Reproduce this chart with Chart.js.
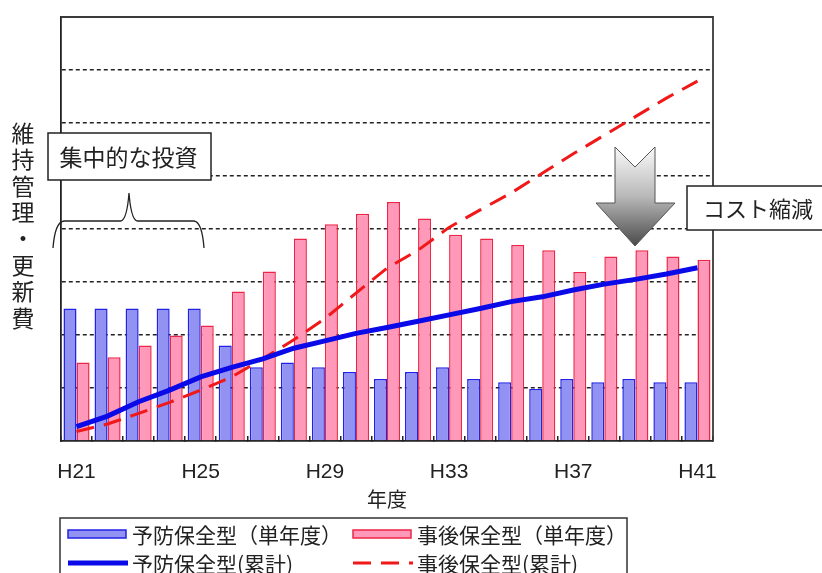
<!DOCTYPE html>
<html><head><meta charset="utf-8">
<script src="https://cdn.jsdelivr.net/npm/chart.js@4/dist/chart.umd.min.js"></script>
<style>html,body{margin:0;padding:0;background:#fff;overflow:hidden}canvas{display:block}</style>
</head><body>
<canvas id="c" width="822" height="573"></canvas>
<script>
// ---- data ----
const categories = ['H21','H22','H23','H24','H25','H26','H27','H28','H29','H30','H31','H32','H33','H34','H35','H36','H37','H38','H39','H40','H41'];
const preventiveSingle = [2.5,2.5,2.5,2.5,2.5,1.8,1.39,1.48,1.39,1.3,1.17,1.3,1.39,1.17,1.11,0.98,1.17,1.11,1.17,1.11,1.11];
const correctiveSingle = [1.48,1.58,1.8,1.99,2.18,2.82,3.2,3.82,4.09,4.29,4.51,4.2,3.89,3.82,3.7,3.6,3.19,3.48,3.6,3.48,3.42];
const preventiveCum = [0.27,0.47,0.74,0.96,1.21,1.39,1.55,1.75,1.89,2.03,2.14,2.26,2.38,2.5,2.63,2.72,2.85,2.96,3.05,3.15,3.27];
const correctiveCum = [0.18,0.32,0.52,0.73,0.96,1.21,1.55,1.91,2.31,2.79,3.26,3.6,4.03,4.36,4.68,5.05,5.42,5.77,6.12,6.47,6.79];
const seriesNames = ['予防保全型（単年度）','事後保全型（単年度）','予防保全型(累計)','事後保全型(累計)'];
const xTitle = '年度';
const yTitleChars = ['維','持','管','理','・','更','新','費'];
const noteInvest = '集中的な投資';
const noteCost = 'コスト縮減';
const labelEvery = 4;

const JP = '"Noto Sans CJK JP", "Noto Sans", sans-serif';
const LAT = '"Liberation Sans Narrow", "Liberation Sans", sans-serif';

const decor = {
  id: 'decor',
  afterDraw(chart) {
    const ctx = chart.ctx;
    const a = chart.chartArea;
    ctx.save();
    // plot frame top/right
    ctx.strokeStyle = '#3a3a3a';
    ctx.lineWidth = 1.8;
    ctx.beginPath();
    ctx.moveTo(a.left, a.top); ctx.lineTo(a.right, a.top); ctx.lineTo(a.right, a.bottom);
    ctx.stroke();

    // y title (vertical)
    ctx.fillStyle = '#222';
    ctx.font = '23px ' + JP;
    ctx.textAlign = 'center';
    ctx.textBaseline = 'middle';
    yTitleChars.forEach((ch, i) => ctx.fillText(ch, 23, 133 + 26.4 * i));

    // box: 集中的な投資
    ctx.fillStyle = '#fff';
    ctx.fillRect(48, 133, 163, 47);
    ctx.strokeStyle = '#222';
    ctx.lineWidth = 1.5;
    ctx.strokeRect(48, 133, 163, 47);
    ctx.fillStyle = '#222';
    ctx.font = '23px ' + JP;
    ctx.textAlign = 'center';
    ctx.fillText(noteInvest, 128.5, 157);

    // brace
    ctx.lineWidth = 1.3;
    ctx.beginPath();
    ctx.moveTo(53, 248);
    ctx.quadraticCurveTo(55, 222, 64, 221);
    ctx.lineTo(121, 221);
    ctx.quadraticCurveTo(127, 219, 129, 193);
    ctx.quadraticCurveTo(131, 219, 137, 221);
    ctx.lineTo(194, 221);
    ctx.quadraticCurveTo(202, 222, 204, 248);
    ctx.stroke();

    // arrow
    const g = ctx.createLinearGradient(0, 147, 0, 246);
    g.addColorStop(0, '#fafafa');
    g.addColorStop(0.5, '#b8b8b8');
    g.addColorStop(1, '#4a4a4a');
    ctx.beginPath();
    ctx.moveTo(615, 147); ctx.lineTo(635, 167); ctx.lineTo(655, 147);
    ctx.lineTo(655, 203); ctx.lineTo(675, 203); ctx.lineTo(635, 246);
    ctx.lineTo(596, 203); ctx.lineTo(615, 203); ctx.closePath();
    ctx.fillStyle = g; ctx.fill();
    ctx.strokeStyle = '#555'; ctx.lineWidth = 1; ctx.stroke();

    // box: コスト縮減
    ctx.fillStyle = '#fff';
    ctx.fillRect(687, 186, 140, 44);
    ctx.strokeStyle = '#222'; ctx.lineWidth = 1.5;
    ctx.strokeRect(687, 186, 140, 44);
    ctx.fillStyle = '#222';
    ctx.font = '22px ' + JP;
    ctx.textAlign = 'left';
    ctx.fillText(noteCost, 703, 209);

    // legend
    ctx.strokeStyle = '#333'; ctx.lineWidth = 1.5;
    ctx.strokeRect(60, 518, 567, 70);
    const pos = [[68, 534], [353, 534], [68, 563], [353, 563]];
    chart.data.datasets.forEach((ds, i) => {
      const [x, y] = pos[i];
      ctx.save();
      if (ds.type === 'bar') {
        ctx.fillStyle = ds.backgroundColor;
        ctx.fillRect(x, y - 4, 58, 8);
        ctx.strokeStyle = ds.borderColor; ctx.lineWidth = 1.5;
        ctx.strokeRect(x, y - 4, 58, 8);
      } else {
        ctx.strokeStyle = ds.borderColor;
        ctx.lineWidth = ds.borderWidth;
        ctx.setLineDash(ds.borderDash || []);
        ctx.beginPath(); ctx.moveTo(x, y); ctx.lineTo(x + 60, y); ctx.stroke();
      }
      ctx.restore();
      ctx.fillStyle = '#222';
      ctx.font = '21px ' + JP;
      ctx.textAlign = 'left';
      ctx.textBaseline = 'middle';
      ctx.fillText(ds.label, x + 64, y + 1);
    });
    ctx.restore();
  }
};

new Chart(document.getElementById('c'), {
  type: 'bar',
  data: {
    labels: categories,
    datasets: [
      { type: 'bar', label: seriesNames[0], data: preventiveSingle, backgroundColor: '#9292f3', borderColor: '#2222e6', borderWidth: 1.5, order: 2, categoryPercentage: 0.84, barPercentage: 1 },
      { type: 'bar', label: seriesNames[1], data: correctiveSingle, backgroundColor: '#ff98b9', borderColor: '#ec2646', borderWidth: 1.5, order: 2, categoryPercentage: 0.84, barPercentage: 1 },
      { type: 'line', label: seriesNames[2], data: preventiveCum, borderColor: '#0a0ae8', borderWidth: 5, pointRadius: 0, order: 0, fill: false, tension: 0 },
      { type: 'line', label: seriesNames[3], data: correctiveCum, borderColor: '#f01818', borderWidth: 3, borderDash: [18, 10], pointRadius: 0, order: 1, fill: false, tension: 0 }
    ]
  },
  options: {
    responsive: false,
    animation: false,
    devicePixelRatio: 1,
    layout: { padding: { left: 61, right: 109, top: 17, bottom: 55 } },
    plugins: { legend: { display: false }, tooltip: { enabled: false } },
    scales: {
      x: {
        grid: { drawOnChartArea: false, drawTicks: true, tickLength: -5, color: '#222', lineWidth: 1.5, offset: true },
        border: { display: true, color: '#222', width: 1.8 },
        ticks: { autoSkip: false, maxRotation: 0, minRotation: 0, padding: 24, color: '#222', font: { family: LAT, size: 21 },
          callback: (v, i) => (i % labelEvery === 0 ? categories[i] : '') },
        title: { display: true, text: xTitle, color: '#222', font: { family: JP, size: 20 }, padding: { top: 0, bottom: 7 } },
        afterFit: s => { s.height = 77; }
      },
      y: {
        min: 0, max: 8,
        ticks: { display: false, stepSize: 1 },
        grid: { drawTicks: false, lineWidth: 1.6, color: c => (c.tick && (c.tick.value === 0 || c.tick.value === 8)) ? 'rgba(0,0,0,0)' : '#222' },
        border: { display: true, color: '#222', width: 1.8, dash: [4, 3] },
        afterFit: s => { s.width = 0; }
      }
    }
  },
  plugins: [decor]
});
</script>
</body></html>
